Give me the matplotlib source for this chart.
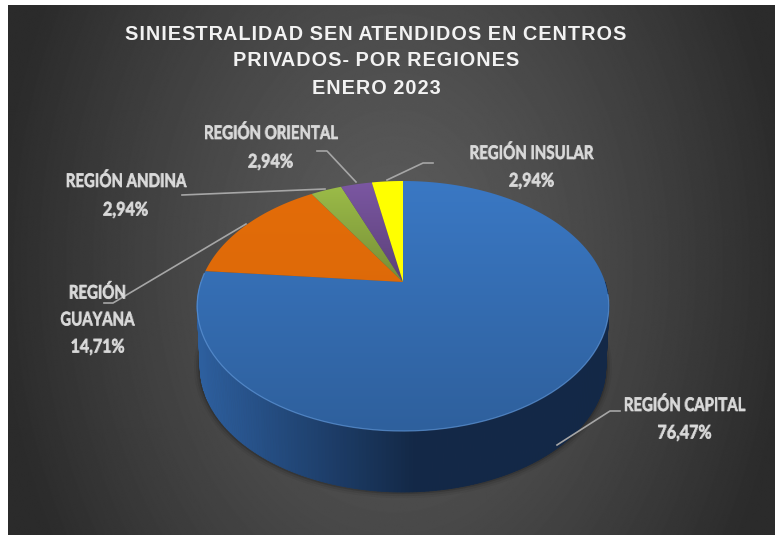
import numpy as np
import matplotlib
matplotlib.use("Agg")
import matplotlib.pyplot as plt
import matplotlib.patheffects as pe
from matplotlib.colors import to_rgb, ListedColormap
from matplotlib.patches import Polygon

# data
regiones = ["REGIÓN CAPITAL", "REGIÓN\nGUAYANA", "REGIÓN ANDINA", "REGIÓN ORIENTAL", "REGIÓN INSULAR"]
valores = [76.47, 14.71, 2.94, 2.94, 2.94]
porcentajes = ["76,47%", "14,71%", "2,94%", "2,94%", "2,94%"]
colores = ["#3a78c4", "#e36c09", "#9bbb48", "#7b57a2", "#ffff00"]
oscuro = [0.80, 0.98, 0.76, 0.74, 1.0]
titulo = "SINIESTRALIDAD SEN ATENDIDOS EN CENTROS\nPRIVADOS- POR REGIONES\nENERO 2023"

W, H = 775, 535
cx, cy = 403, 282
a, b, k = 120.4, 202.0, 0.192
depth = 61


def disco(ang, dy=0, esc=1.0):
    # punto del disco en perspectiva, ang en grados desde arriba, sentido horario
    t = np.radians(ang)
    u, v = np.sin(t), np.cos(t)
    d = 1 + k * v
    return cx + esc * b * u / d, cy - a * v / d + dy


def comprimir(s):
    # estrecha el texto (la fuente original es mas condensada)
    def filtro(img, dpi):
        h, w = img.shape[:2]
        nw = max(int(round(w * s)), 1)
        xs = np.linspace(0, w - 1, nw)
        i0 = np.floor(xs).astype(int)
        i1 = np.minimum(i0 + 1, w - 1)
        f = (xs - i0)[None, :, None]
        return img[:, i0] * (1 - f) + img[:, i1] * f, (w - nw) // 2, 0
    return filtro


def espaciar(img, dpi):
    # abre un pixel en cada hueco entre letras, el titulo va espaciado
    h, w = img.shape[:2]
    vacia = img[:, :, 3].max(axis=0) < 0.2
    cols = []
    for i in range(w):
        cols.append(i)
        if vacia[i] and i > 0 and not vacia[i - 1]:
            cols.append(i)
    return img[:, cols], (w - len(cols)) // 2, 0


fig = plt.figure(figsize=(W / 100, H / 100), dpi=100)
ax = fig.add_axes([0, 0, 1, 1])
ax.set_xlim(0, W)
ax.set_ylim(H, 0)
ax.axis("off")

# fondo
yy, xx = np.mgrid[0:H, 0:W]
dist = np.clip(np.hypot((xx - 390) / 400, (yy - 260) / 560), 0, 1)
ax.imshow(0.36 - 0.19 * dist ** 1.3, cmap="gray", vmin=0, vmax=1, extent=[8, W, H, 5], zorder=0, aspect="auto")

# lado del cilindro
angs = np.linspace(90, 270, 200)
x1, y1 = disco(angs)
x2, y2 = disco(angs, depth, 0.985)
for lw, al in [(9, 0.05), (6, 0.08), (3, 0.14)]:
    ax.plot(x2, y2, color="black", lw=lw, alpha=al, zorder=1, solid_capstyle="round")
base_l = np.array(to_rgb("#2d5f9e"))
base_r = np.array(to_rgb("#132847"))
for i in range(len(angs) - 1):
    f = np.clip((x1[i] - 200) / 215, 0, 1)
    col = base_l * (1 - f) + base_r * f
    ax.fill([x1[i], x1[i + 1], x2[i + 1], x2[i]], [y1[i], y1[i + 1], y2[i + 1], y2[i]],
            color=col, lw=0.6, zorder=2)

# tapa
ini = 0
for val, col, osc in zip(valores, colores, oscuro):
    fin = ini + val * 3.6
    t = np.linspace(ini, fin, max(int(val * 4), 8))
    xs, ys = disco(t)
    px = np.r_[cx, xs]
    py = np.r_[cy, ys]
    pol = Polygon(np.c_[px, py], closed=True, fc="none", ec="none", zorder=3)
    ax.add_patch(pol)
    rgb = np.array(to_rgb(col))
    cmap = ListedColormap(np.linspace(1, osc, 128)[:, None] * rgb)
    grad = np.linspace(0, 1, 128)[:, None]
    im = ax.imshow(grad, cmap=cmap, vmin=0, vmax=1, extent=[px.min(), px.max(), py.max(), py.min()],
                   zorder=3, aspect="auto")
    im.set_clip_path(pol)
    ini = fin

# borde claro del frente
borde = np.linspace(96, 274, 150)
bx, by = disco(borde)
ax.plot(bx, by, color="#5f96d8", lw=0.9, alpha=0.7, zorder=3.5)

# lineas guia
lineas = [
    ([557, 610, 620], [445, 411, 411]),
    ([246, 113, 104], [224, 303, 303]),
    ([325, 182], [189, 195]),
    ([356, 327, 317], [182, 151, 151]),
    ([387, 423, 433], [180, 163, 163]),
]
for lx, ly in lineas:
    ax.plot(lx, ly, color="#a6a6a6", lw=1.2, zorder=4)

grueso = [pe.withStroke(linewidth=0.5, foreground="#d9d9d9")]
pos_nombre = [(685, 405), (98, 306), (126, 181), (271, 133), (532, 153)]
pos_pct = [(685, 433), (98, 347), (126, 210), (271, 162), (532, 181)]
for nombre, pct, (x, y), (x2_, y2_) in zip(regiones, porcentajes, pos_nombre, pos_pct):
    t1 = ax.text(x, y, nombre, ha="center", va="center", color="#d9d9d9", fontsize=13.5,
                 fontweight="bold", family="Lato", linespacing=1.7, zorder=5, path_effects=grueso)
    t1.set_agg_filter(comprimir(0.8))
    t2 = ax.text(x2_, y2_, pct, ha="center", va="center", color="#d9d9d9", fontsize=13.5,
                 fontweight="bold", family="Lato", zorder=5, path_effects=grueso)
    t2.set_agg_filter(comprimir(0.86))

for y, linea in zip([35, 61, 88], titulo.split("\n")):
    t3 = ax.text(376, y, linea, ha="center", va="center", color="#f2f2f2", fontsize=14.3,
                 fontweight="bold", family="Liberation Sans", zorder=5)
    t3.set_agg_filter(espaciar)

fig.savefig("out.png", dpi=100)
